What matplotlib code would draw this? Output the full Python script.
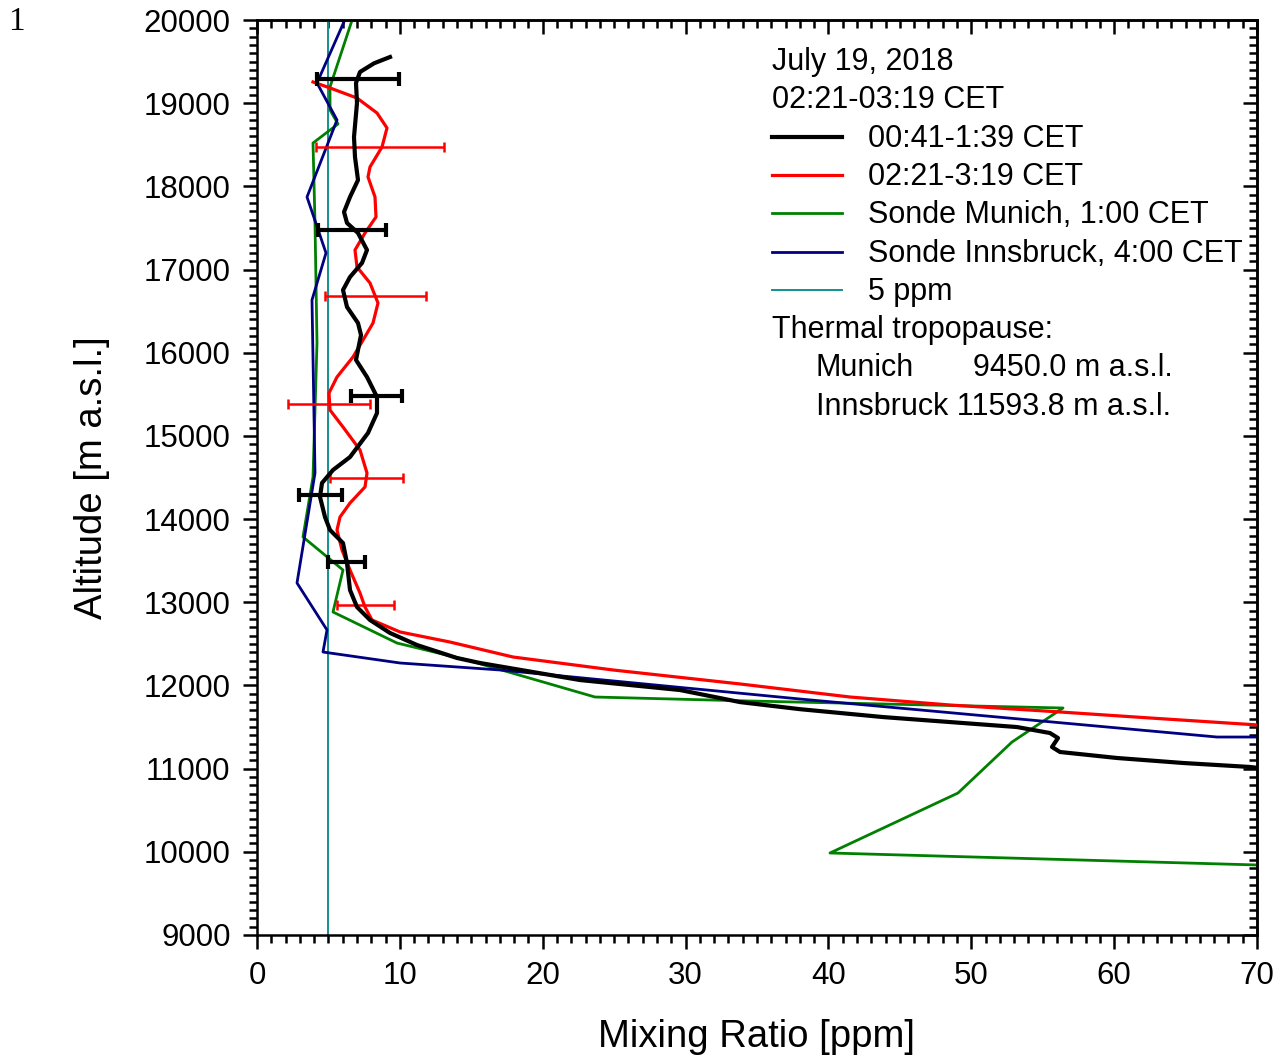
import matplotlib
matplotlib.use("Agg")
import matplotlib.pyplot as plt
from matplotlib.lines import Line2D
from matplotlib.ticker import MultipleLocator

plt.rcParams['font.family'] = ['Liberation Sans', 'DejaVu Sans']

# lidar profile 00:41-1:39 CET (ppm, m a.s.l.)
black_x = [9.31, 8.20, 7.21, 6.93, 7.00, 6.79, 6.86, 7.07, 6.51, 6.09, 6.30, 7.07, 7.70, 7.35, 6.51,
           6.02, 6.30, 7.07, 7.28, 6.93, 7.70, 8.40, 8.40, 7.77, 6.51, 5.32, 4.55, 4.41, 4.76,
           5.11, 6.02, 6.30, 6.51, 7.00, 7.91, 9.31, 11.20, 14.00, 15.61, 22.61, 29.61, 33.81,
           38.0, 43.82, 53.20, 55.51, 56.07, 55.65, 56.21, 60.20, 64.82, 69.51, 70.5]
black_y = [19555, 19480, 19375, 19243, 19002, 18593, 18353, 18076, 17872, 17692, 17560, 17439, 17235,
           17079, 16910, 16754, 16550, 16357, 16213, 15913, 15708, 15468, 15275, 15035, 14746,
           14590, 14434, 14266, 14025, 13869, 13712, 13472, 13147, 12943, 12787, 12631, 12486,
           12330, 12270, 12065, 11945, 11800, 11715, 11620, 11500, 11428, 11368, 11260, 11200,
           11128, 11068, 11020, 11000]

# lidar profile 02:21-3:19 CET
red_x = [3.92, 5.11, 7.00, 8.40, 9.10, 8.75, 7.91, 7.77, 8.26, 8.33, 7.56, 6.86, 7.00, 7.91,
         8.47, 8.12, 7.63, 6.72, 5.60, 5.04, 5.11, 6.02, 7.21, 7.70, 7.56, 6.51, 5.81, 5.60,
         5.95, 6.51, 7.21, 7.56, 8.05, 10.01, 13.51, 17.92, 24.92, 33.81, 41.51, 48.51, 56.21,
         62.51, 70.5]
red_y = [19255, 19183, 19062, 18882, 18702, 18473, 18233, 18113, 17872, 17632, 17439, 17235,
         17031, 16838, 16598, 16357, 16213, 15949, 15708, 15516, 15311, 15107, 14831, 14554,
         14386, 14193, 14025, 13869, 13628, 13388, 13111, 12943, 12787, 12643, 12522, 12342,
         12186, 12018, 11861, 11765, 11681, 11609, 11520]

# error bars
black_err_x = [7.07, 6.65, 8.37, 4.45, 6.27]
black_err_y = [19291, 17475, 15480, 14290, 13484]
black_err = [2.87, 2.38, 1.79, 1.50, 1.30]

red_err_x = [8.60, 8.30, 5.04, 7.67, 7.60]
red_err_y = [18473, 16682, 15384, 14494, 12967]
red_err = [4.48, 3.54, 2.87, 2.56, 2.00]

# radiosonde Munich 1:00 CET
munich_x = [6.85, 5.11, 5.11, 5.67, 3.92, 4.06, 4.20, 3.92, 3.22, 6.02, 5.32, 9.80, 14.70,
            23.66, 34.51, 56.42, 52.85, 49.07, 40.11, 71.0]
munich_y = [20100, 19195, 18918, 18750, 18521, 17560, 16117, 14506, 13785, 13388, 12883,
            12510, 12306, 11861, 11813, 11729, 11320, 10707, 9986, 9837]

# radiosonde Innsbruck 4:00 CET
innsbruck_x = [6.40, 4.20, 5.60, 3.50, 4.83, 3.85, 4.06, 2.80, 4.90, 4.62, 10.01, 17.01,
               38.01, 67.20, 70.5]
innsbruck_y = [20100, 19243, 18798, 17872, 17199, 16634, 14554, 13232, 12667, 12402, 12270,
               12186, 11837, 11380, 11380]

ref_ppm = 5

fig = plt.figure(figsize=(12.85, 10.61), dpi=100)
ax = fig.add_axes([257 / 1285, 1 - 935 / 1061, 1000 / 1285, 915 / 1061])

ax.axvline(ref_ppm, color='#138f91', lw=1.4, zorder=1)
ax.plot(munich_x, munich_y, color='#008000', lw=2.0, zorder=2)
ax.plot(innsbruck_x, innsbruck_y, color='#000080', lw=2.0, zorder=2)
ax.plot(red_x, red_y, color='red', lw=2.3, zorder=3)
ax.plot(black_x, black_y, color='black', lw=3.0, zorder=4)
ax.errorbar(red_err_x, red_err_y, xerr=red_err, fmt='none', ecolor='red',
            elinewidth=1.8, capsize=3.5, capthick=1.8, zorder=3)
ax.errorbar(black_err_x, black_err_y, xerr=black_err, fmt='none', ecolor='black',
            elinewidth=3.0, capsize=5, capthick=3.0, zorder=4)

ax.set_xlim(0, 70)
ax.set_ylim(9000, 20000)
ax.xaxis.set_major_locator(MultipleLocator(10))
ax.xaxis.set_minor_locator(MultipleLocator(1))
ax.yaxis.set_major_locator(MultipleLocator(1000))
ax.yaxis.set_minor_locator(MultipleLocator(100))

for s in ax.spines.values():
    s.set_linewidth(1.8)

ax.tick_params(which='major', direction='out', length=10, width=1.8, labelsize=22.5, pad=9)
ax.tick_params(which='minor', direction='out', length=5.5, width=1.8)

# mirrored axes on top and right with inward ticks
top = ax.secondary_xaxis('top')
top.xaxis.set_major_locator(MultipleLocator(10))
top.xaxis.set_minor_locator(MultipleLocator(1))
top.tick_params(which='major', direction='in', length=10, width=1.8, labeltop=False)
top.tick_params(which='minor', direction='in', length=5.5, width=1.8)
right = ax.secondary_yaxis('right')
right.yaxis.set_major_locator(MultipleLocator(1000))
right.yaxis.set_minor_locator(MultipleLocator(100))
right.tick_params(which='major', direction='in', length=10, width=1.8, labelright=False)
right.tick_params(which='minor', direction='in', length=5.5, width=1.8)
for sec in (top, right):
    for s in sec.spines.values():
        s.set_linewidth(1.8)

ax.set_xlabel('Mixing Ratio [ppm]', fontsize=27.5, labelpad=20)
ax.set_ylabel('Altitude [m a.s.l.]', fontsize=27.5, labelpad=24)

# legend block drawn as text
def px(x, y):
    return x / 1285, 1 - y / 1061

fs = 22
rows = [62, 100, 139, 177, 215, 254, 292, 330, 368, 407]
fig.text(*px(772, rows[0]), 'July 19, 2018', fontsize=fs, va='center')
fig.text(*px(772, rows[1]), '02:21-03:19 CET', fontsize=fs, va='center')
entries = [('00:41-1:39 CET', 'black', 3.0),
           ('02:21-3:19 CET', 'red', 2.3),
           ('Sonde Munich, 1:00 CET', '#008000', 2.0),
           ('Sonde Innsbruck, 4:00 CET', '#000080', 2.0),
           ('5 ppm', '#138f91', 1.4)]
for (lab, col, lw), yy in zip(entries, rows[2:7]):
    x0, y0 = px(772, yy - 2)
    x1, _ = px(842, yy - 2)
    fig.add_artist(Line2D([x0, x1], [y0, y0], color=col, lw=lw, transform=fig.transFigure))
    fig.text(*px(868, yy), lab, fontsize=fs, va='center')
fig.text(*px(772, rows[7]), 'Thermal tropopause:', fontsize=fs, va='center')
fig.text(*px(816, rows[8]), 'Munich', fontsize=fs, va='center')
fig.text(*px(973, rows[8]), '9450.0 m a.s.l.', fontsize=fs, va='center')
fig.text(*px(816, rows[9]), 'Innsbruck 11593.8 m a.s.l.', fontsize=fs, va='center')

fig.text(*px(8, 22), '1', fontsize=24, va='center', family=['Liberation Serif', 'DejaVu Serif'])

fig.savefig('out.png', dpi=100)
